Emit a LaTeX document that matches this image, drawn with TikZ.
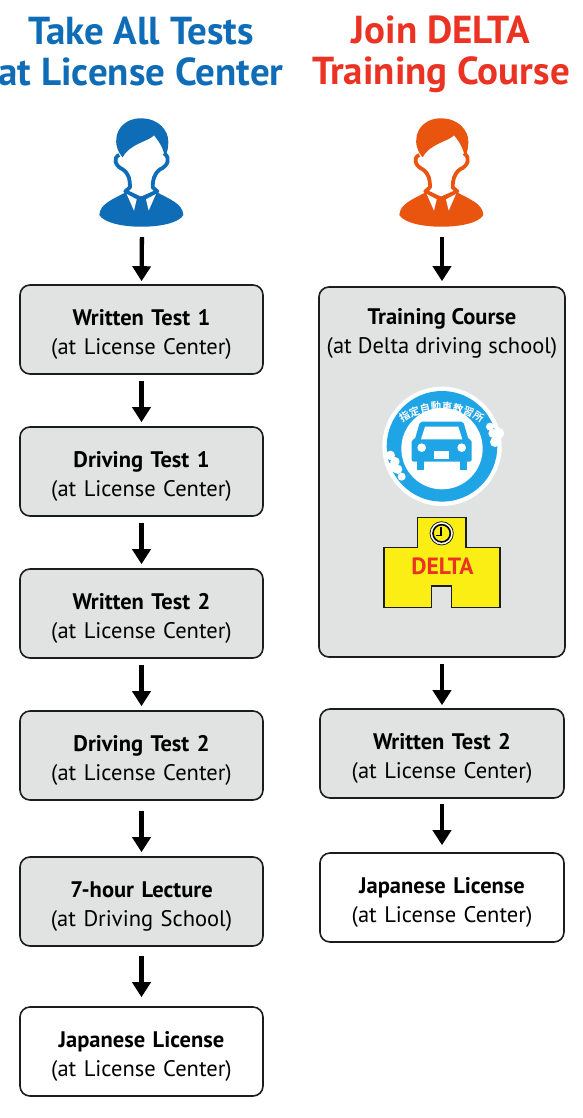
\documentclass[tikz,border=0pt]{standalone}
\usepackage{fontspec}
\setmainfont{PT Sans}
\newfontfamily\cjkf{Noto Sans CJK JP}[BoldFont={* Bold}]
\usetikzlibrary{arrows.meta}
\definecolor{hblue}{HTML}{0F6CB6}
\definecolor{horange}{HTML}{E9540F}
\definecolor{hred}{HTML}{EA3323}
\definecolor{boxgray}{HTML}{E1E2E2}
\definecolor{cyanb}{HTML}{1FA5E6}
\definecolor{yel}{HTML}{FBEE14}
\definecolor{boxline}{HTML}{1C1C1C}
\tikzset{
  boxlabel/.style={font=\fontsize{22.5}{29}\selectfont,align=center,inner sep=0pt},
  flowbox/.style={boxlabel,draw=boxline,line width=1.6pt,rounded corners=10pt,fill=boxgray,text width=240pt},
  whitebox/.style={flowbox,fill=white},
  arr/.style={line width=4.3pt,-{Triangle[length=15pt,width=18pt]},black},
  title/.style={font=\fontsize{39}{41}\selectfont\bfseries,align=center,inner sep=0pt},
  person/.style={minimum width=84pt,minimum height=110pt,inner sep=0pt},
}
\newcommand{\boxtext}[2]{\rule{0pt}{25pt}\textbf{#1}\\#2}
\newcommand{\drawperson}[2]{%
 \begin{scope}[shift={(#1,100)},x=0.3333pt,y=-0.3333pt]
  \fill[#2] (58,345) .. controls (60,310) and (100,298) .. (140,275) -- (228,275) .. controls (268,298) and (308,310) .. (310,345) .. controls (285,392) and (85,392) .. (58,345) -- cycle;
  \fill[white] (118,165) .. controls (98,172) and (105,198) .. (128,208) .. controls (148,222) and (150,240) .. (150,262) -- (136,274) -- (183,296) -- (232,274) -- (218,262) .. controls (218,240) and (222,222) .. (240,208) .. controls (265,198) and (272,172) .. (252,160) -- (185,90) -- cycle;
  \draw[#2,line width=3.8pt,line join=round] (118,165) .. controls (98,172) and (105,198) .. (128,208) .. controls (148,222) and (150,240) .. (150,262) -- (136,274) -- (183,296) -- (232,274) -- (218,262) .. controls (218,240) and (222,222) .. (240,208) .. controls (265,198) and (272,172) .. (252,160);
  \fill[white] (140,282) -- (170,298) -- (162,332) -- cycle;
  \fill[white] (228,282) -- (198,298) -- (206,332) -- cycle;
  \fill[#2] (170,290) -- (198,290) -- (192,306) -- (197,336) -- (184,348) -- (171,336) -- (176,306) -- cycle;
  \fill[#2] (128,172) .. controls (112,155) and (105,130) .. (110,108) .. controls (118,70) and (155,52) .. (190,55) .. controls (235,58) and (265,90) .. (265,125) .. controls (265,145) and (262,155) .. (255,172) .. controls (250,145) and (238,125) .. (222,106) .. controls (205,125) and (150,130) .. (128,172) -- cycle;
 \end{scope}}
\begin{document}
\begin{tikzpicture}[x=1pt,y=-1pt]
\useasboundingbox (0,0) rectangle (583,1118);
% titles
\node[title,text=hblue] (t1) at (141,52) {Take All Tests\\at License Center};
\node[title,text=hred] (t2) at (441,54.5) {Join DELTA\\Training Course};
% people
\drawperson{80}{hblue}
\drawperson{380}{horange}
\node[person] (p1) at (142,172) {};
\node[person] (p2) at (442,172) {};
% left column
\node[flowbox,minimum height=89pt,minimum width=243pt] (a1) at (141.5,329.5) {\boxtext{Written Test 1}{(at License Center)}};
\node[flowbox,minimum height=89pt,minimum width=243pt] (a2) at (141.5,471.5) {\boxtext{Driving Test 1}{(at License Center)}};
\node[flowbox,minimum height=89pt,minimum width=243pt] (a3) at (141.5,613.5) {\boxtext{Written Test 2}{(at License Center)}};
\node[flowbox,minimum height=89pt,minimum width=243pt] (a4) at (141.5,755.5) {\boxtext{Driving Test 2}{(at License Center)}};
\node[flowbox,minimum height=89pt,minimum width=243pt] (a5) at (141.5,901.5) {\boxtext{7-hour Lecture}{(at Driving School)}};
\node[whitebox,minimum height=89pt,minimum width=243pt] (a6) at (141.5,1051.5) {\boxtext{Japanese License}{(at License Center)}};
% right column
\node[flowbox,minimum height=370pt,minimum width=246pt] (b1) at (442,472) {};
\node[boxlabel] (b1t) at (442,329) {\boxtext{Training Course}{(at Delta driving school)}};
\node[flowbox,minimum height=89pt,minimum width=244pt] (b2) at (442,753.5) {\boxtext{Written Test 2}{(at License Center)}};
\node[whitebox,minimum height=89pt,minimum width=244pt] (b3) at (442,897.5) {\boxtext{Japanese License}{(at License Center)}};
% emblem (coordinates of a 3x crop)
\begin{scope}[shift={(375,380)},x=0.3333pt,y=-0.3333pt]
 \fill[white] (201,199) circle[radius=179];
 \fill[cyanb] (201,199) circle[radius=166];
 \fill[white] (345,140) circle[radius=12];
 \fill[white] (354,160) circle[radius=14];
 \fill[white] (360,186) circle[radius=15];
 \fill[white] (372,160) circle[radius=16];
 \fill[white] (46,226) circle[radius=14];
 \fill[white] (60,245) circle[radius=14];
 \fill[white] (68,268) circle[radius=14];
 \fill[white] (80,290) circle[radius=12];
 \fill[white] (50,262) circle[radius=16];
 \fill[white] (201,206) circle[radius=122];
 \begin{scope}
  \clip (201,199) circle[radius=166];
  \draw[cyanb,line width=20pt] (201,295) ++(128:217) arc[start angle=128,end angle=52,radius=217];
 \end{scope}
 % car
 \fill[cyanb,rounded corners=2pt] (135,125) -- (265,125) -- (281,180) -- (290,180) -- (290,245) -- (110,245) -- (110,180) -- (119,180) -- cycle;
 \fill[cyanb] (127,240) rectangle (147,270);
 \fill[cyanb] (255,240) rectangle (275,270);
 \fill[white] (150,140) -- (250,140) -- (262,178) -- (138,178) -- cycle;
 \fill[white] (140,203) circle[radius=13];
 \fill[white] (260,203) circle[radius=13];
 \fill[white] (178,213) rectangle (223,238);
\end{scope}
% building (coordinates of a 3x crop)
\begin{scope}[shift={(370,380)},x=0.3333pt,y=-0.3333pt]
 \draw[fill=yel,draw=boxline,line width=1.3pt] (142,412) -- (288,412) -- (288,503) -- (390,503) -- (390,683) -- (245,683) -- (245,618) -- (185,618) -- (185,683) -- (42,683) -- (42,503) -- (142,503) -- cycle;
 \draw[fill=white,draw=boxline,line width=0.8pt] (215,460) circle[radius=35];
 \draw[fill=yel,draw=black,line width=1.6pt] (215,460) circle[radius=26];
 \draw[black,line width=1.2pt] (213,442) -- (213,467) -- (198,467);
\end{scope}
\foreach \ch [count=\i] in {指,定,自,動,車,教,習,所}{
 \pgfmathsetmacro{\ang}{120.5-(\i-1)*8.7}
 \pgfmathsetmacro{\px}{441.7+73*cos(\ang)}
 \pgfmathsetmacro{\py}{479.5-73*sin(\ang)}
 \node[inner sep=0pt,text=white,rotate=\ang-90,font=\cjkf\bfseries\fontsize{10.4}{11}\selectfont] (e\i) at (\px,\py) {\ch};
}
\node[inner sep=0pt,text=hred,font=\fontsize{23.5}{24}\selectfont\bfseries] (delta) at (442.5,566.5) {DELTA};
% connectors
\foreach \u/\v/\s/\e in {p1/a1/10/3,a1/a2/6/4,a2/a3/6/4,a3/a4/6/4,a4/a5/10/4,a5/a6/9/9,p2/b1/10/5,b1/b2/6/3,b2/b3/5/7}{
 \draw[arr,shorten <=\s pt,shorten >=\e pt] (\u.south) -- (\v.north);
}
\end{tikzpicture}
\end{document}
